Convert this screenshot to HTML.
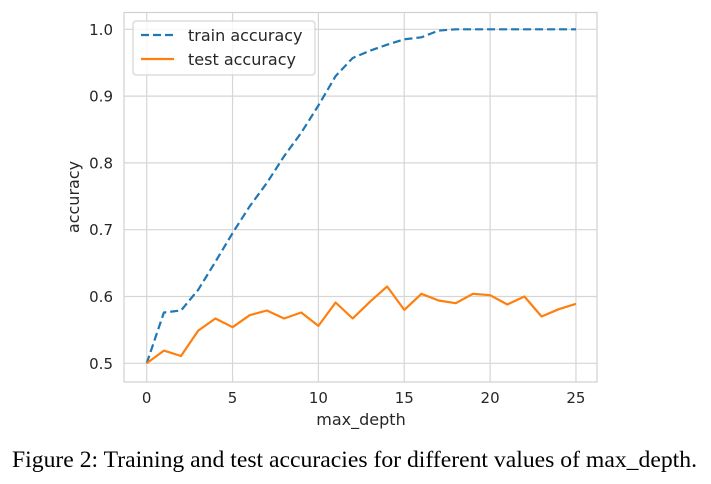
<!DOCTYPE html>
<html><head><meta charset="utf-8"><style>
body{margin:0;background:#fff;width:711px;height:484px;overflow:hidden}
svg{display:block}
</style></head><body>
<svg width="711" height="484">
<g id="grid"></g>
<rect x="124" y="12.5" width="473" height="369.5" fill="none" stroke="#d0d0d0" stroke-width="1.2"/>
<g id="ticks" font-family="DejaVu Sans, sans-serif" font-size="15" fill="#262626"></g>
<g id="series"></g>
<text x="79" y="197" transform="rotate(-90 79 197)" text-anchor="middle" font-family="DejaVu Sans, sans-serif" font-size="16" fill="#262626">accuracy</text>
<text x="361" y="425" text-anchor="middle" font-family="DejaVu Sans, sans-serif" font-size="16" fill="#262626">max_depth</text>
<g>
<rect x="133" y="21" width="182" height="54" rx="3" fill="#fff" fill-opacity="0.8" stroke="#ccc"/>
<line x1="141" y1="35" x2="174" y2="35" stroke="#1f77b4" stroke-width="2.2" stroke-dasharray="8,4"/>
<text x="188" y="41" font-family="DejaVu Sans, sans-serif" font-size="16" fill="#262626">train accuracy</text>
<line x1="141" y1="59" x2="174" y2="59" stroke="#ff7f0e" stroke-width="2.2"/>
<text x="188" y="65" font-family="DejaVu Sans, sans-serif" font-size="16" fill="#262626">test accuracy</text>
</g>
<text x="12" y="467" textLength="685" lengthAdjust="spacingAndGlyphs" font-family="Liberation Serif, serif" font-size="23" fill="#000">Figure 2: Training and test accuracies for different values of max_depth.</text>
</svg>
<script>
const depths=[0,1,2,3,4,5,6,7,8,9,10,11,12,13,14,15,16,17,18,19,20,21,22,23,24,25];
const trainAcc=[0.5,0.576,0.579,0.61,0.652,0.695,0.735,0.77,0.81,0.845,0.886,0.93,0.957,0.968,0.977,0.985,0.988,0.998,1,1,1,1,1,1,1,1];
const testAcc=[0.5,0.519,0.511,0.549,0.567,0.554,0.572,0.579,0.567,0.576,0.556,0.591,0.567,0.592,0.615,0.58,0.604,0.594,0.59,0.604,0.602,0.588,0.6,0.57,0.581,0.589];
const xTicks=[0,5,10,15,20,25];
const yTicks=[0.5,0.6,0.7,0.8,0.9,1.0];
const NS='http://www.w3.org/2000/svg';
const X=v=>146.7+v*17.17;
const Y=v=>363.3-(v-0.5)*668;
const grid=document.getElementById('grid'),ticks=document.getElementById('ticks'),ser=document.getElementById('series');
function mk(tag,at,p){const e=document.createElementNS(NS,tag);for(const k in at)e.setAttribute(k,at[k]);p.appendChild(e);return e;}
xTicks.forEach(t=>{
 const l=mk('line',{x1:X(t),x2:X(t),y1:12.5,y2:382,stroke:'#d6d6d6','stroke-width':1.2},grid);
 
 
 const tx=mk('text',{x:X(t),y:403,'text-anchor':'middle'},ticks);tx.textContent=t;
 
 
});
yTicks.forEach(t=>{
 const l=mk('line',{x1:124,x2:597,y1:Y(t),y2:Y(t),stroke:'#d6d6d6','stroke-width':1.2},grid);
 
 
 const tx=mk('text',{x:113,y:Y(t)+5.5,'text-anchor':'end'},ticks);tx.textContent=t.toFixed(1);
 
 
});
function line(vals,color,dash,name){
 const d=vals.map((v,i)=>(i?'L':'M')+X(depths[i]).toFixed(1)+','+Y(v).toFixed(1)).join(' ');
 const p=mk('path',{d:d,fill:'none',stroke:color,'stroke-width':2.2,'stroke-linejoin':'round'},ser);
 if(dash)p.setAttribute('stroke-dasharray',dash);
 
 
}
line(trainAcc,'#1f77b4','8,4','train-accuracy-line');
line(testAcc,'#ff7f0e',null,'test-accuracy-line');
</script>
</body></html>
